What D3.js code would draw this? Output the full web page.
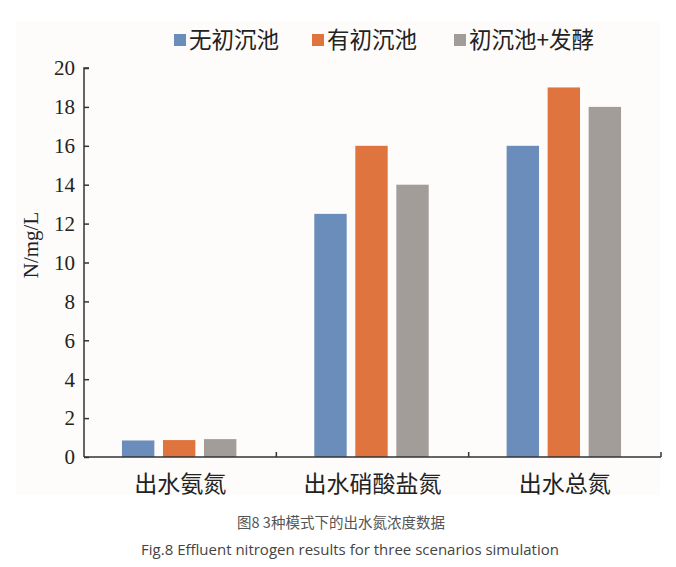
<!DOCTYPE html>
<html><head><meta charset="utf-8">
<script src="https://cdn.jsdelivr.net/npm/d3@7"></script>
<style>body{margin:0;background:#fff}svg{display:block}</style>
</head><body>
<svg id="chart" width="676" height="567"></svg>
<script>
const categories = ["出水氨氮", "出水硝酸盐氮", "出水总氮"];
const seriesNames = ["无初沉池", "有初沉池", "初沉池+发酵"];
const seriesValues = [
  [0.85, 12.5, 16],
  [0.87, 16, 19],
  [0.92, 14, 18]
];
const yTicks = [0, 2, 4, 6, 8, 10, 12, 14, 16, 18, 20];
const colors = ["#6a8dbb", "#e0743f", "#a39d9a"];

const svg = d3.select("#chart");
svg.append("rect").attr("x", 16).attr("y", 21).attr("width", 644).attr("height", 474).attr("fill", "#fdfcfa");

const x0 = d3.scaleBand().domain(categories).range([84, 661]).paddingInner(0).paddingOuter(0);
const x1 = d3.scaleBand().domain(seriesNames).range([0, x0.bandwidth()]).paddingInner(0.21).paddingOuter(0.95);
const y = d3.scaleLinear().domain([0, 20]).range([457, 68]);

const data = [];
categories.forEach((c, i) => seriesNames.forEach((s, j) => data.push({c, s, j, v: seriesValues[j][i]})));

svg.append("g").selectAll("rect").data(data).join("rect")
  .attr("x", d => x0(d.c) + x1(d.s) - 1)
  .attr("width", x1.bandwidth())
  .attr("y", d => y(d.v))
  .attr("height", d => y(0) - y(d.v))
  .attr("fill", d => colors[d.j]);

// y axis
const ya = svg.append("g").attr("transform", "translate(84,0)")
  .call(d3.axisRight(y).tickValues(yTicks).tickSize(5).tickFormat(""));
ya.select(".domain").attr("d", "M5,68H0V457").attr("stroke", "#333").attr("stroke-width", 1.5);
ya.selectAll("line").attr("stroke", "#333").attr("stroke-width", 1.5);
svg.append("g").selectAll("text").data(yTicks).join("text")
  .attr("x", 75).attr("y", d => y(d)).attr("dy", "0.35em")
  .attr("text-anchor", "end")
  .attr("font-family", "Liberation Serif, serif").attr("font-size", 21).attr("fill", "#222")
  .text(d => d);

// x axis
const xa = svg.append("g").attr("transform", "translate(0,457)");
xa.append("line").attr("x1", 84).attr("x2", 661).attr("stroke", "#333").attr("stroke-width", 1.5);
xa.selectAll("line.t").data(categories).join("line").attr("class", "t")
  .attr("x1", d => x0(d) + x0.bandwidth()).attr("x2", d => x0(d) + x0.bandwidth())
  .attr("y1", 0).attr("y2", -5).attr("stroke", "#333").attr("stroke-width", 1.5);
svg.append("g").selectAll("text").data(categories).join("text")
  .attr("x", d => x0(d) + x0.bandwidth() / 2).attr("y", 492)
  .attr("text-anchor", "middle")
  .attr("font-family", "Noto Sans CJK SC").attr("font-size", 23).attr("fill", "#222")
  .text(d => d);

// y title
svg.append("text").attr("transform", "translate(38,245) rotate(-90)")
  .attr("text-anchor", "middle")
  .attr("font-family", "Liberation Serif, serif").attr("font-size", 21).attr("fill", "#222")
  .text("N/mg/L");

// legend
const legX = [174, 312, 454];
const lg = svg.append("g").selectAll("g").data(seriesNames).join("g")
  .attr("transform", (d, i) => `translate(${legX[i]},40)`);
lg.append("rect").attr("x", 0).attr("y", -6).attr("width", 12).attr("height", 12).attr("fill", (d, i) => colors[i]);
lg.append("text").attr("x", 15).attr("dy", "0.35em")
  .attr("font-family", "Noto Sans CJK SC").attr("font-size", 22.5).attr("fill", "#222")
  .text(d => d);

// captions
svg.append("text").attr("x", 341).attr("y", 528).attr("text-anchor", "middle")
  .attr("font-family", "Noto Sans CJK SC").attr("font-size", 14.5).attr("fill", "#555")
  .text("图8 3种模式下的出水氮浓度数据");
svg.append("text").attr("x", 350).attr("y", 555).attr("text-anchor", "middle")
  .attr("font-family", "Open Sans").attr("font-size", 15).attr("fill", "#444")
  .text("Fig.8 Effluent nitrogen results for three scenarios simulation");
</script>
</body></html>
